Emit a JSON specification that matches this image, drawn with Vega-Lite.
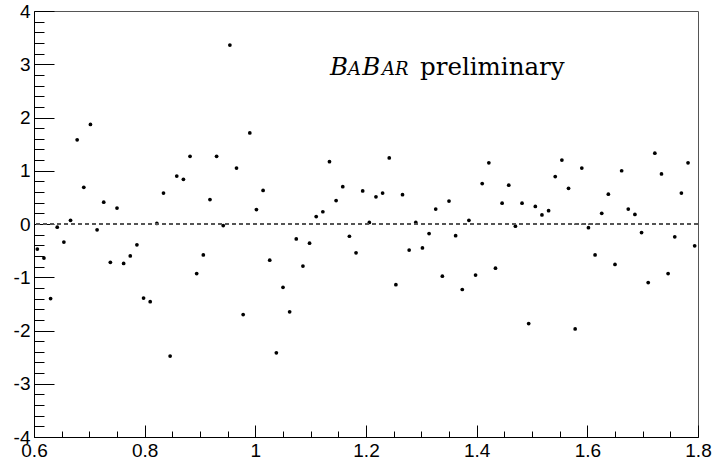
{
  "$schema": "https://vega.github.io/schema/vega-lite/v6.json",
  "width": 664,
  "height": 426,
  "autosize": {"type": "none"},
  "padding": {"left": 34, "top": 11, "right": 16, "bottom": 28},
  "background": "white",
  "config": {
    "view": {"stroke": "#555555", "strokeWidth": 1},
    "axis": {
      "labelFont": "Liberation Sans",
      "labelFontSize": 19,
      "labelColor": "black",
      "domainColor": "black",
      "tickColor": "black",
      "grid": false,
      "title": null
    }
  },
  "data": {
    "values": [
      {"x": 0.606, "y": -0.47}, {"x": 0.618, "y": -0.64}, {"x": 0.630, "y": -1.40}, {"x": 0.642, "y": -0.06},
      {"x": 0.654, "y": -0.34}, {"x": 0.666, "y": 0.07}, {"x": 0.678, "y": 1.58}, {"x": 0.690, "y": 0.69},
      {"x": 0.702, "y": 1.87}, {"x": 0.714, "y": -0.11}, {"x": 0.726, "y": 0.41}, {"x": 0.738, "y": -0.72},
      {"x": 0.750, "y": 0.30}, {"x": 0.762, "y": -0.74}, {"x": 0.774, "y": -0.60}, {"x": 0.786, "y": -0.39},
      {"x": 0.798, "y": -1.39}, {"x": 0.810, "y": -1.46}, {"x": 0.822, "y": 0.01}, {"x": 0.834, "y": 0.58},
      {"x": 0.846, "y": -2.48}, {"x": 0.858, "y": 0.90}, {"x": 0.870, "y": 0.84}, {"x": 0.882, "y": 1.27},
      {"x": 0.894, "y": -0.93}, {"x": 0.906, "y": -0.58}, {"x": 0.918, "y": 0.46}, {"x": 0.930, "y": 1.27},
      {"x": 0.942, "y": -0.03}, {"x": 0.954, "y": 3.36}, {"x": 0.966, "y": 1.05}, {"x": 0.978, "y": -1.70},
      {"x": 0.990, "y": 1.71}, {"x": 1.002, "y": 0.27}, {"x": 1.014, "y": 0.63}, {"x": 1.026, "y": -0.68},
      {"x": 1.038, "y": -2.42}, {"x": 1.050, "y": -1.19}, {"x": 1.062, "y": -1.65}, {"x": 1.074, "y": -0.28},
      {"x": 1.086, "y": -0.79}, {"x": 1.098, "y": -0.36}, {"x": 1.110, "y": 0.14}, {"x": 1.122, "y": 0.23},
      {"x": 1.134, "y": 1.17}, {"x": 1.146, "y": 0.44}, {"x": 1.158, "y": 0.70}, {"x": 1.170, "y": -0.23},
      {"x": 1.182, "y": -0.54}, {"x": 1.194, "y": 0.62}, {"x": 1.206, "y": 0.03}, {"x": 1.218, "y": 0.51},
      {"x": 1.230, "y": 0.58}, {"x": 1.242, "y": 1.24}, {"x": 1.254, "y": -1.14}, {"x": 1.266, "y": 0.55},
      {"x": 1.278, "y": -0.49}, {"x": 1.290, "y": 0.03}, {"x": 1.302, "y": -0.45}, {"x": 1.314, "y": -0.18},
      {"x": 1.326, "y": 0.28}, {"x": 1.338, "y": -0.98}, {"x": 1.350, "y": 0.43}, {"x": 1.362, "y": -0.22},
      {"x": 1.374, "y": -1.23}, {"x": 1.386, "y": 0.07}, {"x": 1.398, "y": -0.96}, {"x": 1.410, "y": 0.76},
      {"x": 1.422, "y": 1.15}, {"x": 1.434, "y": -0.83}, {"x": 1.446, "y": 0.39}, {"x": 1.458, "y": 0.73},
      {"x": 1.470, "y": -0.04}, {"x": 1.482, "y": 0.39}, {"x": 1.494, "y": -1.87}, {"x": 1.506, "y": 0.33},
      {"x": 1.518, "y": 0.17}, {"x": 1.530, "y": 0.25}, {"x": 1.542, "y": 0.89}, {"x": 1.554, "y": 1.20},
      {"x": 1.566, "y": 0.67}, {"x": 1.578, "y": -1.97}, {"x": 1.590, "y": 1.05}, {"x": 1.602, "y": -0.07},
      {"x": 1.614, "y": -0.58}, {"x": 1.626, "y": 0.20}, {"x": 1.638, "y": 0.56}, {"x": 1.650, "y": -0.76},
      {"x": 1.662, "y": 1.00}, {"x": 1.674, "y": 0.28}, {"x": 1.686, "y": 0.18}, {"x": 1.698, "y": -0.16},
      {"x": 1.710, "y": -1.10}, {"x": 1.722, "y": 1.33}, {"x": 1.734, "y": 0.94}, {"x": 1.746, "y": -0.93},
      {"x": 1.758, "y": -0.24}, {"x": 1.770, "y": 0.58}, {"x": 1.782, "y": 1.15}, {"x": 1.794, "y": -0.41}
    ]
  },
  "resolve": {"axis": {"x": "independent", "y": "independent"}},
  "layer": [
    {
      "mark": {"type": "point", "filled": true, "color": "black", "opacity": 1, "size": 14, "strokeWidth": 0},
      "encoding": {
        "x": {
          "field": "x", "type": "quantitative",
          "scale": {"domain": [0.6, 1.8], "nice": false, "zero": false},
          "axis": {
            "orient": "bottom",
            "values": [0.6, 0.8, 1.0, 1.2, 1.4, 1.6, 1.8],
            "tickSize": -12,
            "labelPadding": 16,
            "labelExpr": "'' + datum.value",
            "labelFlush": false,
            "labelOverlap": false
          }
        },
        "y": {
          "field": "y", "type": "quantitative",
          "scale": {"domain": [-4, 4], "nice": false, "zero": false},
          "axis": {
            "orient": "left",
            "values": [-4, -3, -2, -1, 0, 1, 2, 3, 4],
            "tickSize": -20,
            "labelPadding": 24,
            "labelExpr": "(datum.value < 0 ? '-' : '') + abs(datum.value)",
            "labelOverlap": false
          }
        }
      }
    },
    {
      "mark": {"type": "point", "opacity": 0},
      "encoding": {
        "x": {
          "field": "x", "type": "quantitative",
          "axis": {
            "orient": "bottom",
            "values": [0.65, 0.7, 0.75, 0.85, 0.9, 0.95, 1.05, 1.1, 1.15, 1.25, 1.3, 1.35, 1.45, 1.5, 1.55, 1.65, 1.7, 1.75],
            "tickSize": -6,
            "labels": false,
            "domain": false
          }
        },
        "y": {
          "field": "y", "type": "quantitative",
          "axis": {
            "orient": "left",
            "values": [-3.8, -3.6, -3.4, -3.2, -2.8, -2.6, -2.4, -2.2, -1.8, -1.6, -1.4, -1.2, -0.8, -0.6, -0.4, -0.2, 0.2, 0.4, 0.6, 0.8, 1.2, 1.4, 1.6, 1.8, 2.2, 2.4, 2.6, 2.8, 3.2, 3.4, 3.6, 3.8],
            "tickSize": -10,
            "labels": false,
            "domain": false
          }
        }
      }
    },
    {
      "mark": {"type": "rule", "color": "#555555", "strokeWidth": 1, "strokeDash": [4, 3]},
      "encoding": {"y": {"datum": 0, "type": "quantitative", "axis": null}}
    },
    {
      "data": {"values": [{"t": "B"}]},
      "mark": {"type": "text", "font": "DejaVu Serif", "fontStyle": "italic", "fontSize": 24.5, "align": "left", "baseline": "alphabetic", "color": "black"},
      "encoding": {
        "x": {"datum": 1.135, "type": "quantitative", "axis": null},
        "y": {"datum": 2.8, "type": "quantitative", "axis": null},
        "text": {"field": "t"}
      }
    },
    {
      "data": {"values": [{"t": "A"}]},
      "mark": {"type": "text", "font": "DejaVu Serif", "fontStyle": "italic", "fontSize": 18, "align": "left", "baseline": "alphabetic", "color": "black"},
      "encoding": {
        "x": {"datum": 1.1675, "type": "quantitative", "axis": null},
        "y": {"datum": 2.8, "type": "quantitative", "axis": null},
        "text": {"field": "t"}
      }
    },
    {
      "data": {"values": [{"t": "B"}]},
      "mark": {"type": "text", "font": "DejaVu Serif", "fontStyle": "italic", "fontSize": 24.5, "align": "left", "baseline": "alphabetic", "color": "black"},
      "encoding": {
        "x": {"datum": 1.193, "type": "quantitative", "axis": null},
        "y": {"datum": 2.8, "type": "quantitative", "axis": null},
        "text": {"field": "t"}
      }
    },
    {
      "data": {"values": [{"t": "AR"}]},
      "mark": {"type": "text", "font": "DejaVu Serif", "fontStyle": "italic", "fontSize": 18, "align": "left", "baseline": "alphabetic", "color": "black"},
      "encoding": {
        "x": {"datum": 1.229, "type": "quantitative", "axis": null},
        "y": {"datum": 2.8, "type": "quantitative", "axis": null},
        "text": {"field": "t"}
      }
    },
    {
      "data": {"values": [{"t": "preliminary"}]},
      "mark": {"type": "text", "font": "DejaVu Serif", "fontSize": 24.5, "align": "left", "baseline": "alphabetic", "color": "black"},
      "encoding": {
        "x": {"datum": 1.2976, "type": "quantitative", "axis": null},
        "y": {"datum": 2.8, "type": "quantitative", "axis": null},
        "text": {"field": "t"}
      }
    }
  ]
}
